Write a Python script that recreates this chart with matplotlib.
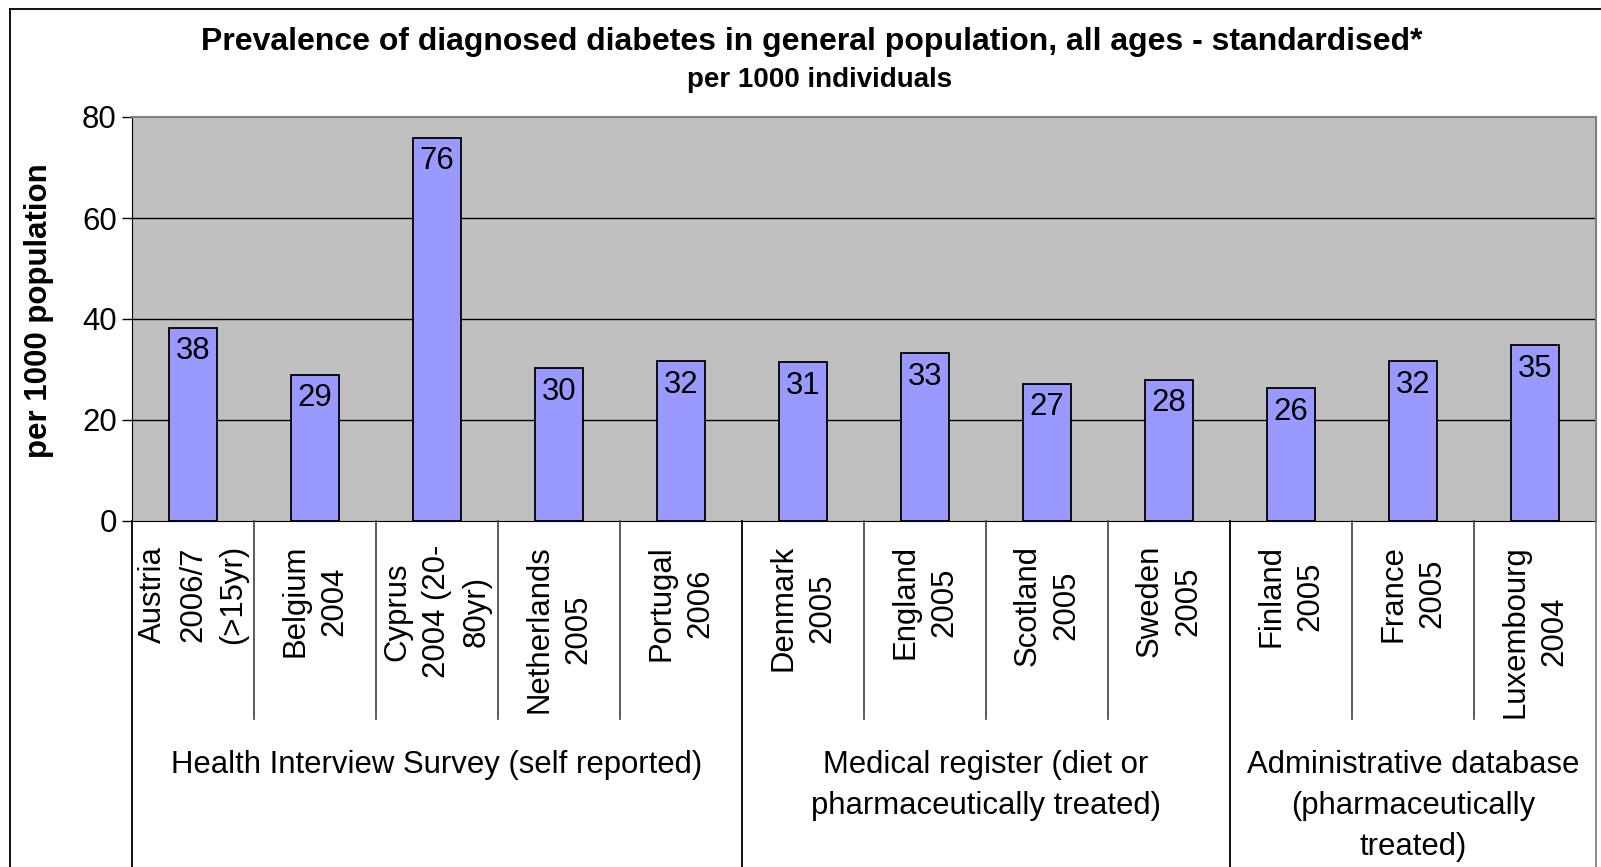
import matplotlib
matplotlib.use("Agg")
import matplotlib.pyplot as plt
from matplotlib.lines import Line2D
from matplotlib.transforms import blended_transform_factory

plt.rcParams['font.family'] = ['Liberation Sans', 'DejaVu Sans']

# Data
categories = ["Austria\n2006/7\n(>15yr)", "Belgium\n2004", "Cyprus\n2004 (20-\n80yr)",
              "Netherlands\n2005", "Portugal\n2006", "Denmark\n2005", "England\n2005",
              "Scotland\n2005", "Sweden\n2005", "Finland\n2005", "France\n2005",
              "Luxembourg\n2004"]
values = [38.3, 28.9, 75.9, 30.2, 31.6, 31.4, 33.2, 27.1, 27.9, 26.3, 31.6, 34.8]
groups = ["Health Interview Survey (self reported)",
          "Medical register (diet or\npharmaceutically treated)",
          "Administrative database\n(pharmaceutically\ntreated)"]
group_sizes = [5, 4, 3]
yticks = [0, 20, 40, 60, 80]

W, H = 1601, 867
fig = plt.figure(figsize=(W / 100, H / 100), dpi=100)
fig.patch.set_facecolor('white')

FS = 22.4

# plot area in pixels
left, right, top, bottom = 132, 1596, 117, 521
ax = fig.add_axes([left / W, 1 - bottom / H, (right - left) / W, (bottom - top) / H])
ax.set_facecolor('#C0C0C0')

x = list(range(len(categories)))
bars = ax.bar(x, values, width=0.4, color='#9999FF', edgecolor='black', linewidth=1.3, zorder=3)
for xi, v in zip(x, values):
    ax.annotate(f"{v:.0f}", (xi, v), xytext=(0, -6), textcoords='offset points',
                ha='center', va='top', fontsize=FS, zorder=4)

ax.set_xlim(-0.5, len(categories) - 0.5)
ax.set_ylim(0, 80)
ax.set_yticks(yticks)
ax.set_xticks([])
ax.tick_params(axis='y', labelsize=FS, length=7, width=1, pad=4)
for g in yticks[1:-1]:
    ax.axhline(g, color='black', lw=1, zorder=1)
for s in ['top', 'right']:
    ax.spines[s].set_color('#808080')
    ax.spines[s].set_linewidth(1.5)
ax.spines['left'].set_color('black')
ax.spines['bottom'].set_color('black')

# category label area below the axis
tr = blended_transform_factory(ax.transData, fig.transFigure)
def fy(px):
    return 1 - px / H

bounds = [0]
for n in group_sizes:
    bounds.append(bounds[-1] + n)
for i in range(1, len(categories)):
    if i in bounds:
        continue
    fig.add_artist(Line2D([i - 0.5, i - 0.5], [fy(bottom), fy(719)], transform=tr,
                          color='#404040', lw=1.2))
for b in bounds:
    col = '#808080' if b == len(categories) else 'black'
    fig.add_artist(Line2D([b - 0.5, b - 0.5], [fy(bottom), fy(H + 5)], transform=tr,
                          color=col, lw=1.3))

for xi, lab in zip(x, categories):
    fig.text(xi, fy(545), lab, transform=tr, rotation=90, ha='center', va='top',
             multialignment='center', fontsize=FS, linespacing=1.42)

for gi, g in enumerate(groups):
    cx = (bounds[gi] + bounds[gi + 1] - 1) / 2
    fig.text(cx, fy(750), g, transform=tr, ha='center', va='top',
             multialignment='center', fontsize=FS, linespacing=1.47)

# titles
fig.text(812 / W, fy(42), "Prevalence of diagnosed diabetes in general population, all ages - standardised*",
         ha='center', va='center', fontsize=23, fontweight='bold')
fig.text(820 / W, fy(80), "per 1000 individuals", ha='center', va='center',
         fontsize=20, fontweight='bold')
fig.text(39 / W, fy(311), "per 1000 population", rotation=90, ha='center', va='center',
         fontsize=22.5, fontweight='bold')

# outer chart frame
fig.add_artist(Line2D([10 / W, 10 / W], [fy(9), 0], transform=fig.transFigure, color='black', lw=1.3))
fig.add_artist(Line2D([10 / W, 1], [fy(9), fy(9)], transform=fig.transFigure, color='black', lw=1.3))

fig.savefig("out.png", dpi=100)
